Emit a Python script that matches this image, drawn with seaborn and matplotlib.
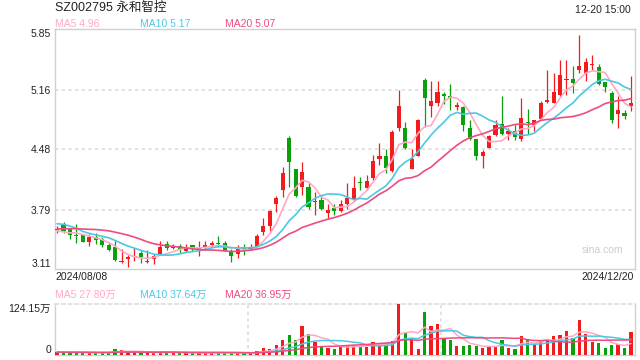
import numpy as np
import pandas as pd
import matplotlib
matplotlib.use("Agg")
import matplotlib.pyplot as plt
import seaborn as sns

# texts
title = "SZ002795 永和智控"
stamp = "12-20 15:00"
first_date = "2024/08/08"
last_date = "2024/12/20"
price_ma_labels = ["MA5 4.96", "MA10 5.17", "MA20 5.07"]
vol_ma_labels = ["MA5 27.80万", "MA10 37.64万", "MA20 36.95万"]
price_ticks = [3.11, 3.79, 4.48, 5.16, 5.85]
vol_ticks = [0, 124.15]
vol_tick_labels = ["0", "124.15万"]

# closes / volumes before 2024/08/08, only used to seed the moving averages
prev_close = [3.48, 3.50, 3.47, 3.52, 3.55, 3.50, 3.53, 3.49, 3.52, 3.54,
              3.62, 3.70, 3.75, 3.78, 3.70, 3.62, 3.55, 3.50, 3.52]
prev_vol = [7, 6, 8, 6, 5, 7, 9, 6, 5, 6, 8, 7, 6, 5, 6, 7, 5, 6, 7]

# daily candles 2024/08/08 .. 2024/12/20
opens = [3.56, 3.63, 3.57, 3.51, 3.50, 3.42, 3.48, 3.46, 3.39, 3.37,
         3.19, 3.23, 3.25, 3.30, 3.19, 3.23, 3.28, 3.40, 3.35, 3.38,
         3.32, 3.39, 3.35, 3.36, 3.39, 3.41, 3.41, 3.32, 3.28, 3.37,
         3.34, 3.38, 3.54, 3.60, 3.85, 4.02, 4.61, 4.25, 4.05, 4.05,
         3.87, 3.90, 3.75, 3.81, 3.78, 3.86, 3.91, 4.11, 4.04, 4.15,
         4.37, 4.40, 4.23, 4.72, 4.72, 4.26, 4.40, 5.27, 4.98, 5.01,
         5.11, 5.09, 4.96, 4.96, 4.72, 4.60, 4.40, 4.50, 4.64, 4.77,
         4.66, 4.69, 4.60, 4.80, 4.76, 4.83, 5.02, 5.01, 5.10, 5.28,
         5.28, 5.39, 5.35, 5.45, 5.42, 5.25, 5.12, 4.88, 4.89, 4.98]
highs = [3.60, 3.65, 3.58, 3.63, 3.51, 3.51, 3.53, 3.48, 3.42, 3.44,
         3.34, 3.27, 3.35, 3.32, 3.33, 3.28, 3.43, 3.43, 3.40, 3.40,
         3.40, 3.39, 3.43, 3.43, 3.43, 3.49, 3.43, 3.34, 3.39, 3.40,
         3.40, 3.51, 3.70, 3.79, 3.95, 4.28, 4.63, 4.25, 4.34, 4.09,
         3.99, 3.96, 3.85, 3.85, 3.90, 4.09, 4.17, 4.16, 4.19, 4.42,
         4.55, 4.48, 4.70, 5.16, 4.79, 4.48, 4.83, 5.29, 5.26, 5.26,
         5.13, 5.22, 5.02, 4.97, 4.82, 4.60, 4.47, 4.64, 4.82, 5.09,
         4.72, 4.76, 5.07, 4.94, 4.81, 5.03, 5.39, 5.35, 5.50, 5.50,
         5.43, 5.78, 5.52, 5.56, 5.45, 5.25, 5.15, 5.09, 4.93, 5.32]
lows = [3.52, 3.52, 3.46, 3.41, 3.42, 3.38, 3.40, 3.36, 3.32, 3.21,
        3.18, 3.14, 3.20, 3.18, 3.18, 3.17, 3.28, 3.33, 3.34, 3.30,
        3.31, 3.32, 3.26, 3.33, 3.37, 3.37, 3.32, 3.19, 3.24, 3.27,
        3.33, 3.37, 3.50, 3.55, 3.76, 3.93, 4.05, 3.94, 3.96, 3.80,
        3.73, 3.79, 3.70, 3.73, 3.76, 3.80, 3.90, 4.01, 4.02, 4.13,
        4.30, 4.21, 4.22, 4.69, 4.48, 4.26, 4.40, 4.74, 4.85, 4.97,
        5.00, 4.93, 4.93, 4.69, 4.59, 4.36, 4.27, 4.49, 4.63, 4.64,
        4.59, 4.59, 4.57, 4.66, 4.69, 4.83, 5.01, 5.01, 5.09, 5.10,
        5.12, 5.35, 5.26, 5.38, 5.21, 5.13, 4.78, 4.72, 4.83, 4.92]
closes = [3.56, 3.55, 3.50, 3.50, 3.42, 3.48, 3.45, 3.39, 3.33, 3.22,
          3.21, 3.25, 3.26, 3.25, 3.21, 3.26, 3.37, 3.35, 3.36, 3.34,
          3.37, 3.35, 3.35, 3.39, 3.41, 3.40, 3.33, 3.26, 3.35, 3.34,
          3.36, 3.49, 3.61, 3.78, 3.92, 4.21, 4.33, 3.95, 4.22, 3.82,
          3.88, 3.80, 3.79, 3.77, 3.86, 3.92, 4.04, 4.10, 4.12, 4.35,
          4.40, 4.27, 4.68, 4.97, 4.49, 4.37, 4.81, 5.06, 5.03, 5.13,
          5.10, 5.06, 4.99, 4.76, 4.60, 4.40, 4.45, 4.63, 4.76, 4.65,
          4.69, 4.62, 4.84, 4.79, 4.81, 5.01, 5.04, 5.13, 5.33, 5.28,
          5.24, 5.43, 5.48, 5.45, 5.23, 5.19, 4.82, 4.93, 4.86, 5.01]
# volume in 万 shares
volumes = [6, 5, 5, 6, 5, 4, 5, 5, 6, 14,
           11, 6, 5, 5, 5, 4, 7, 6, 5, 5,
           5, 4, 5, 5, 4, 5, 4, 5, 4, 5,
           5, 8, 16, 14, 25, 36, 49, 35, 71, 51,
           32, 20, 16.5, 13, 20, 23, 25, 20, 20, 31,
           28, 30, 33, 124.15, 56, 40, 15, 104, 70, 74.5,
           40, 36, 21.5, 21.5, 23, 21.5, 16.5, 20, 20, 36,
           16.5, 15, 46, 38, 26.5, 33, 36, 46, 48, 58,
           40, 86.5, 50, 31, 30, 16.5, 23, 26.5, 16.5, 56.5]

RED = "#f21c1c"
GREEN = "#0aa00a"
MA_COLORS = ["#ffa9c6", "#4cc8e2", "#ee4b7e"]
MA_WINDOWS = [5, 10, 20]

n = len(closes)
x = np.arange(n)
o = np.array(opens)
c = np.array(closes)
up = c >= o
colors = np.where(up, RED, GREEN)

all_close = pd.Series(prev_close + closes)
all_vol = pd.Series(prev_vol + volumes)
price_ma = [all_close.rolling(w).mean().to_numpy()[-n:] for w in MA_WINDOWS]
vol_ma = [all_vol.rolling(w).mean().to_numpy()[-n:] for w in MA_WINDOWS]

sns.set_theme(style="white")
plt.rcParams["font.family"] = ["Liberation Sans", "Noto Sans CJK SC"]

W, H = 640, 360
fig = plt.figure(figsize=(W / 100, H / 100), dpi=100)


def px(xp, yp):
    return xp / W, 1 - yp / H


ax = fig.add_axes([54.5 / W, 1 - 269.3 / H, 580 / W, 240 / H])
axv = fig.add_axes([54.5 / W, 1 - 354.7 / H, 580 / W, 50.4 / H])

xlim = (-0.4, n - 1 + 0.55)
grid_kw = dict(color="#dddddd", lw=1.2, ls=(0, (2, 2)), zorder=0)

# candles
ax.vlines(x, lows, highs, color=colors, lw=0.9, zorder=2)
body = np.maximum(np.abs(c - o), 0.012)
bottom = np.where(np.abs(c - o) < 0.012, c - 0.006, np.minimum(o, c))
ax.bar(x, body, bottom=bottom, width=0.64, color=colors, linewidth=0, zorder=3)
for ma, col in zip(price_ma, MA_COLORS):
    sns.lineplot(x=x, y=ma, ax=ax, color=col, lw=1.2, legend=False, zorder=4)

for t in price_ticks[1:-1]:
    ax.axhline(t, **grid_kw)
ax.set_xlim(*xlim)
ax.set_ylim(price_ticks[0], price_ticks[-1])
ax.set_xticks([])
ax.set_yticks(price_ticks)
ax.set_yticklabels([f"{t:.2f}" for t in price_ticks])
ax.set_ylabel("")
ax.set_xlabel("")

# volume
axv.bar(x, volumes, width=0.5, color=colors, linewidth=0, zorder=3)
for ma, col in zip(vol_ma, MA_COLORS):
    sns.lineplot(x=x, y=ma, ax=axv, color=col, lw=1.1, legend=False, zorder=4)
axv.set_xlim(*xlim)
axv.set_ylim(vol_ticks[0], vol_ticks[-1])
for k in (1, 2):
    axv.axvline(xlim[0] + (xlim[1] - xlim[0]) * k / 3, **grid_kw)
axv.set_xticks([])
axv.set_yticks(vol_ticks)
axv.set_yticklabels(vol_tick_labels)
axv.set_ylabel("")
axv.set_xlabel("")

for a in (ax, axv):
    for s in a.spines.values():
        s.set_color("#d0d0d0")
        s.set_linewidth(1)
        s.set_visible(True)
    a.tick_params(axis="y", length=0, pad=2.5, labelsize=7.5, labelcolor="#222222")
    labels = a.get_yticklabels()
    labels[0].set_va("bottom")
    labels[-1].set_va("top")
axv.spines["top"].set_color("#dddddd")
axv.spines["top"].set_linestyle((0, (2, 2)))
axv.spines["top"].set_linewidth(1.2)

# header and legends
fig.text(*px(55, 8), title, fontsize=9, color="#222222", va="center", ha="left")
fig.text(*px(631, 10), stamp, fontsize=7.5, color="#222222", va="center", ha="right")
for lab, col, xp in zip(price_ma_labels, MA_COLORS, [55, 140.5, 225]):
    fig.text(*px(xp, 24), lab, fontsize=7.5, color=col, va="center", ha="left")
for lab, col, xp in zip(vol_ma_labels, MA_COLORS, [55, 140.5, 225]):
    fig.text(*px(xp, 295), lab, fontsize=7.5, color=col, va="center", ha="left")
fig.text(*px(55, 277), first_date, fontsize=7.5, color="#222222", va="center", ha="left")
fig.text(*px(634, 277), last_date, fontsize=7.5, color="#222222", va="center", ha="right")
fig.text(*px(602, 250), "sina.com", fontsize=7.5, color="#cccccc", va="center", ha="center")

fig.savefig("out.png", dpi=100)
plt.close(fig)
